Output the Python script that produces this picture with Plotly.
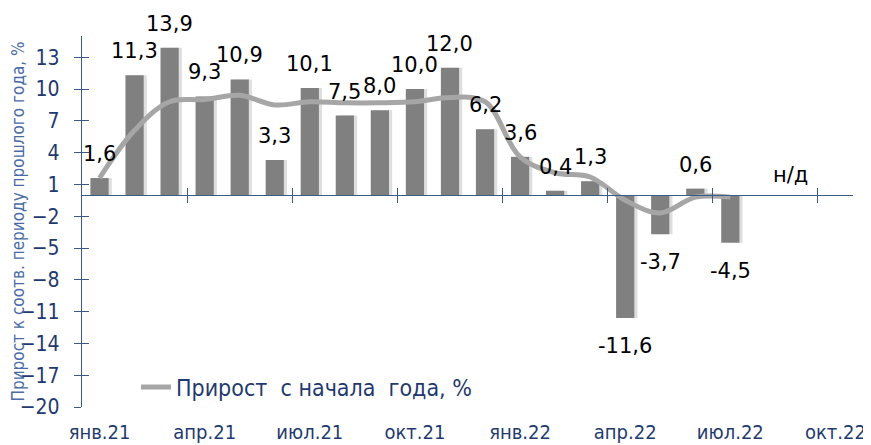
import plotly.graph_objects as go

months = ["янв.21", "фев.21", "мар.21", "апр.21", "май.21", "июн.21", "июл.21", "авг.21",
          "сен.21", "окт.21", "ноя.21", "дек.21", "янв.22", "фев.22", "мар.22", "апр.22",
          "май.22", "июн.22", "июл.22", "авг.22", "сен.22", "окт.22"]
monthly_growth = [1.6, 11.3, 13.9, 9.3, 10.9, 3.3, 10.1, 7.5, 8.0, 10.0, 12.0, 6.2,
                  3.6, 0.4, 1.3, -11.6, -3.7, 0.6, -4.5, None, None, None]
ytd_growth = [1.6, 6.1, 8.8, 9.0, 9.4, 8.5, 8.8, 8.7, 8.7, 8.8, 9.2, 8.8,
              3.6, 2.1, 1.7, -0.5, -1.7, -0.2, -0.2, None, None, None]
tick_labels = months[::3]
no_data_month = "авг.22"
no_data_text = "н/д"
y_min, y_max = -20, 15

AXIS = "#3A5A8C"
TICKTXT = "#1F3A6E"
TITLE = "#4A6BA6"
LBLFONT = "DejaVu Sans"
AXFONT = "DejaVu Sans Condensed"
BAR_W = 0.52

fig = go.Figure()
# soft shadow behind bars
fig.add_trace(go.Bar(x=months, y=monthly_growth, marker_color="rgba(0,0,0,0.13)",
                     marker_line_width=0, width=BAR_W, offset=-BAR_W / 2 + 0.09,
                     showlegend=False, hoverinfo="skip"))
fig.add_trace(go.Bar(x=months, y=monthly_growth, marker_color="#808080",
                     marker_line_width=0, width=BAR_W, offset=-BAR_W / 2,
                     showlegend=False, name="м/м"))
fig.add_trace(go.Scatter(x=months, y=ytd_growth, mode="lines",
                         line=dict(color="#A6A6A6", width=5, shape="spline", smoothing=1.0),
                         name="Прирост  с начала  года, %"))

n = len(months)
fig.add_trace(go.Scatter(x=[0], y=[None], xaxis="x2", yaxis="y2", showlegend=False, hoverinfo="skip"))
fig.add_trace(go.Scatter(x=[0], y=[None], xaxis="x3", yaxis="y", showlegend=False, hoverinfo="skip"))

annotations = []
for m, v in zip(months, monthly_growth):
    if v is None:
        continue
    annotations.append(dict(x=m, y=v, xref="x", yref="y", showarrow=False,
                            text=f"{v:.1f}".replace(".", ","),
                            yshift=24 if v >= 0 else -28,
                            font=dict(family=LBLFONT, size=21, color="#000000")))
annotations.append(dict(x=no_data_month, y=0, xref="x", yref="y", showarrow=False,
                        text=no_data_text, yshift=20, xshift=25,
                        font=dict(family=LBLFONT, size=21, color="#000000")))

zero_pos = (0 - y_min) / (y_max - y_min)
boundary_ticks = [i - 0.5 for i in range(3, n, 3)]

# page body has an 8px default margin; figure size/margins compensate for it
fig.update_layout(
    width=863, height=437,
    margin=dict(l=74, r=18, t=28, b=38),
    plot_bgcolor="white", paper_bgcolor="white",
    barmode="overlay",
    annotations=annotations,
    legend=dict(x=0.07, y=0.054, xanchor="left", yanchor="middle",
                bgcolor="rgba(0,0,0,0)",
                font=dict(family=AXFONT, size=23, color=TICKTXT)),
    xaxis=dict(type="category", categoryorder="array", categoryarray=months,
               range=[-0.5, n - 0.5], tickmode="array", tickvals=tick_labels,
               ticktext=tick_labels, ticks="", showline=False, showgrid=False,
               zeroline=False, ticklabelstandoff=11, automargin=False,
               tickfont=dict(family=AXFONT, size=20, color=TICKTXT)),
    xaxis2=dict(overlaying="x", anchor="free", position=zero_pos, range=[-0.5, n - 0.5],
                showline=True, linecolor=AXIS, linewidth=1.3, ticks="outside",
                ticklen=7, tickcolor=AXIS, tickwidth=1.3, tickmode="array", automargin=False,
                tickvals=boundary_ticks, showticklabels=False, showgrid=False, zeroline=False),
    xaxis3=dict(overlaying="x", anchor="free", position=zero_pos, range=[-0.5, n - 0.5],
                showline=False, ticks="inside", automargin=False,
                ticklen=7, tickcolor=AXIS, tickwidth=1.3, tickmode="array",
                tickvals=boundary_ticks, showticklabels=False, showgrid=False, zeroline=False),
    yaxis=dict(range=[y_min, y_max], tick0=y_min, dtick=3, tickmode="linear",
               showline=True, linecolor=AXIS, linewidth=1.3, ticks="outside",
               ticklen=7, tickcolor=AXIS, tickwidth=1.3, showgrid=False, zeroline=False,
               ticklabelstandoff=10, automargin=False,
               tickfont=dict(family=AXFONT, size=21, color=TICKTXT),
               title=dict(text="Прирост к соотв. периоду прошлого года, %", standoff=10,
                          font=dict(family=AXFONT, size=17, color=TITLE))),
    yaxis2=dict(overlaying="y", anchor="x", range=[y_min, y_max], tick0=y_min, dtick=3,
                tickmode="linear", showline=False, ticks="inside", ticklen=7, automargin=False,
                tickcolor=AXIS, tickwidth=1.3, showticklabels=False, showgrid=False,
                zeroline=False),
)

fig.write_html("out.html")
